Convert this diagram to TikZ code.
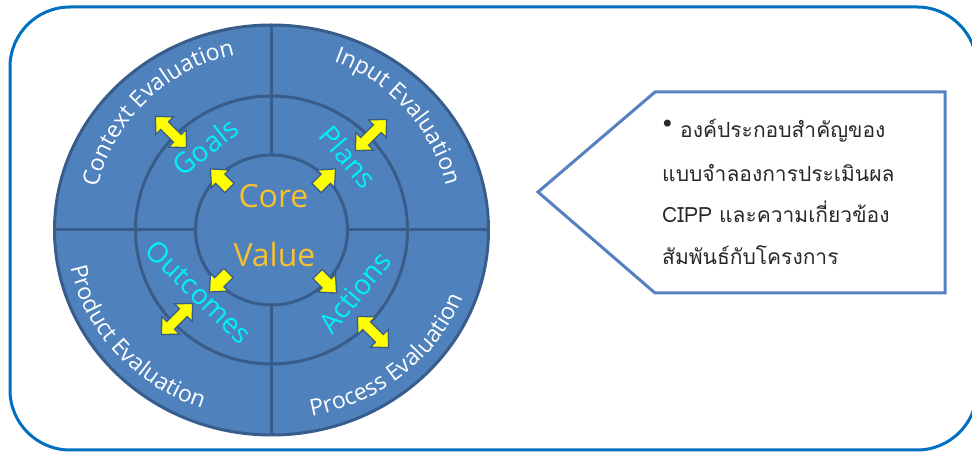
\documentclass[tikz,border=0pt]{standalone}
\usepackage{fontspec}
\setsansfont{Open Sans}
\newfontfamily\thaifont[Script=Thai]{Loma}
\newfontfamily\symfont{DejaVu Sans}
\usetikzlibrary{decorations.text,calc}
\definecolor{ringfill}{RGB}{79,129,189}
\definecolor{ringline}{RGB}{56,93,138}
\definecolor{frameblue}{RGB}{0,112,192}
\definecolor{calloutblue}{RGB}{84,130,192}
\definecolor{coregold}{RGB}{247,192,50}
\definecolor{labelcyan}{RGB}{0,240,250}
\definecolor{arrowyellow}{RGB}{255,255,0}
\definecolor{thaitext}{RGB}{40,40,40}
\begin{document}
\begin{tikzpicture}[x=1pt,y=1pt,
  ring/.style={draw=ringline, line width=3pt},
  yarrow/.style={fill=arrowyellow, draw=ringline, line width=1.3pt, line join=miter},
  callout/.style={draw=calloutblue, fill=white, line width=3pt, line join=miter},
  corelabel/.style={text=coregold, font=\sffamily\fontsize{32}{32}\selectfont, inner sep=0pt, anchor=base},
  thailine/.style={text=thaitext, font=\thaifont\fontsize{21}{21}\selectfont, inner sep=0pt, anchor=base west},
  dblarrow/.pic={\draw[yarrow] (-22,0) -- (-9,12.5) -- (-9,5.5) -- (9,5.5) -- (9,12.5) -- (22,0) -- (9,-12.5) -- (9,-5.5) -- (-9,-5.5) -- (-9,-12.5) -- cycle;},
  sglarrow/.pic={\draw[yarrow] (0,-6.5) -- (13,-6.5) -- (13,-12.5) -- (27,0) -- (13,12.5) -- (13,6.5) -- (0,6.5) -- cycle;}
]
\useasboundingbox (0,0) rectangle (972,452);
% outer frame
\draw[frameblue, line width=3pt, rounded corners=60pt] (10,2) rectangle (977,445);

% rings
\coordinate (O) at (271.5,222);
\fill[ringfill] (O) ellipse[x radius=217, y radius=205];
\draw[ring] (O) ++(0,75) -- ++(0,130);
\draw[ring] (O) ++(0,-75) -- ++(0,-130);
\draw[ring] (O) ++(-76,0) -- ++(-141,0);
\draw[ring] (O) ++(76,0) -- ++(141,0);
\draw[ring] (O) ellipse[x radius=217, y radius=205];
\draw[ring] (O) ellipse[x radius=136, y radius=134];
\draw[ring] (O) ellipse[x radius=76, y radius=75];

% outer labels
\path[decorate, decoration={text along path, text align=center, text color=white,
  text={|\sffamily\fontsize{23}{23}\selectfont|Context Evaluation}}]
  (O) ++(184:179) arc[start angle=184, end angle=84, radius=179];
\path[decorate, decoration={text along path, text align=center, text color=white,
  text={|\sffamily\fontsize{23}{23}\selectfont|Input Evaluation}}]
  (O) ++(92:180) arc[start angle=92, end angle=-8, radius=180];
\path[decorate, decoration={text along path, text align=center, text color=white,
  text={|\sffamily\fontsize{23}{23}\selectfont|Product Evaluation}}]
  (O) ++(170:205 and 190) arc[start angle=170, end angle=270, x radius=205, y radius=190];
\path[decorate, decoration={text along path, text align=center, text color=white,
  text={|\sffamily\fontsize{23}{23}\selectfont|Process Evaluation}}]
  (O) ++(261:205 and 190) arc[start angle=261, end angle=361, x radius=205, y radius=190];

% middle labels
\path[decorate, decoration={text along path, text align=center, text color=labelcyan,
  text={|\sffamily\fontsize{28}{28}\selectfont|Goals}}]
  (148.7,247.6) -- (274.7,346.4);
\path[decorate, decoration={text along path, text align=center, text color=labelcyan,
  text={|\sffamily\fontsize{28}{28}\selectfont|Plans}}]
  (288.4,349.3) -- (392,227.3);
\path[decorate, decoration={text along path, text align=center, text color=labelcyan,
  text={|\sffamily\fontsize{28}{28}\selectfont|Outcomes}}]
  (127.3,215.1) -- (256.5,89.9);
\path[decorate, decoration={text along path, text align=center, text color=labelcyan,
  text={|\sffamily\fontsize{28}{28}\selectfont|Actions}}]
  (312.0,91.4) -- (413.8,215.0);

% core
\node[corelabel] (core) at (273.5,244) {Core};
\node[corelabel] (value) at (274.5,185) {Value};

% arrows
\pic[rotate=-45] at (171,320) {dblarrow};
\pic[rotate=45] at (371,317) {dblarrow};
\pic[rotate=45] at (177,133) {dblarrow};
\pic[rotate=-45] at (373,120) {dblarrow};
\pic[rotate=135] at ($(O)+(-42,42)$) {sglarrow};
\pic[rotate=45] at ($(O)+(45,42)$) {sglarrow};
\pic[rotate=225] at ($(O)+(-43,-43)$) {sglarrow};
\pic[rotate=-45] at ($(O)+(46,-44)$) {sglarrow};

% callout
\draw[callout] (655,360) -- (945,360) -- (945,159) -- (655,159) -- (538,260) -- cycle;
\node[inner sep=0pt, text=thaitext, font=\symfont\fontsize{24}{24}\selectfont] (bullet) at (667.5,326) {•};
\node[thailine] (t1) at (680,314) {องค์ประกอบสำคัญของ};
\node[thailine] (t2) at (662,270) {แบบจำลองการประเมินผล};
\node[thailine] (t3) at (662,229) {CIPP และความเกี่ยวข้อง};
\node[thailine] (t4) at (662,187) {สัมพันธ์กับโครงการ};
\end{tikzpicture}
\end{document}
